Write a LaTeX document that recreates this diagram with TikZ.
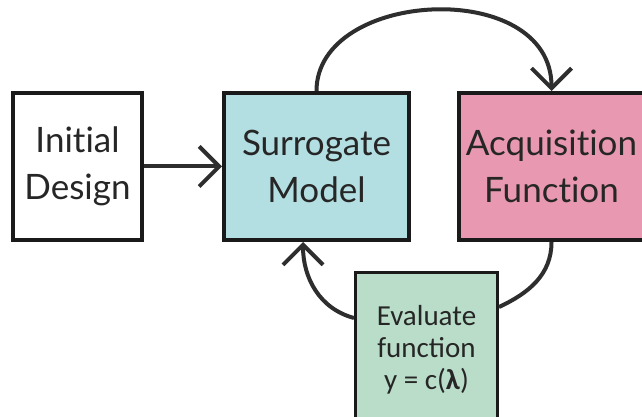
\documentclass[tikz,border=0pt]{standalone}
\usepackage{fontspec}
\setmainfont{Lato}[Ligatures={NoCommon}]
\newfontfamily\evalfont{Carlito}
\usetikzlibrary{arrows.meta}
\definecolor{edgegray}{HTML}{2E2E2E}
\definecolor{boxline}{HTML}{1A1A1A}
\definecolor{surrblue}{HTML}{B3DEE2}
\definecolor{acqpink}{HTML}{E898B0}
\definecolor{evalgreen}{HTML}{B9DDC8}
\begin{document}
\begin{tikzpicture}[x=1pt,y=1pt,
  box/.style={draw=boxline, line width=4pt, minimum width=185pt, minimum height=147pt,
    align=center, inner sep=0pt, text=black!85,
    font=\fontsize{35}{47}\selectfont},
  evalbox/.style={draw=boxline, line width=3pt, fill=evalgreen,
    minimum width=142pt, minimum height=160pt, inner sep=0pt},
  evaltext/.style={align=center, inner sep=0pt, text=black!85,
    font=\evalfont\fontsize{29}{32}\selectfont},
  link/.style={draw=edgegray, line width=4pt},
  flow/.style={link, -{Straight Barb[length=20pt,width=40pt]}}
]
\useasboundingbox (0,0) rectangle (642,417);
\fill[white] (0,0) rectangle (642,417);

% the four stages
\node[box, minimum width=129pt] (init) at (77.5,250.5) {Initial\\Design};
\node[box, fill=surrblue] (surr) at (316.5,250.5) {Surrogate\\Model};
\node[box, fill=acqpink] (acq) at (551.5,250.5) {Acquisition\\Function};
\node[evalbox] (eval) at (426.5,64) {};
\node[evaltext] (evaltxt) at (426.5,67) {Evaluate\\function\\y = c(\textbf{λ})};

% connectors
\draw[flow] (init.east) -- (surr.west);
\draw[flow] (surr.north) .. controls +(0,102) and +(0,114) .. (acq.north);
\draw[link] (acq.south) to[out=-90, in=25] ([yshift=46pt]eval.east);
\draw[flow] ([yshift=35pt]eval.west) to[out=165, in=-90] ([xshift=-13.5pt]surr.south);
\end{tikzpicture}
\end{document}
